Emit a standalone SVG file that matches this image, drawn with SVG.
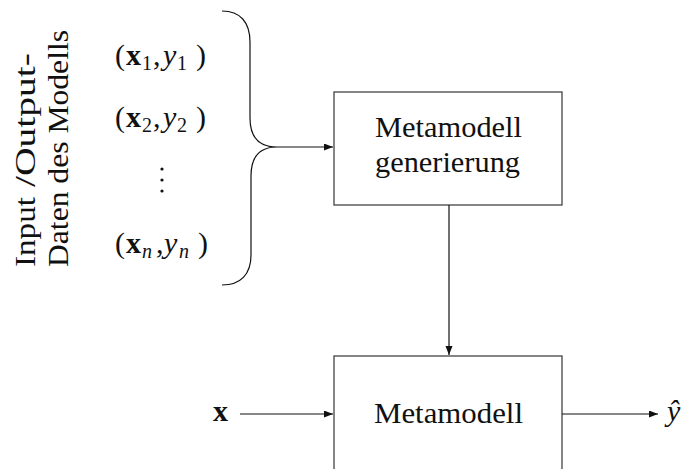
<svg xmlns="http://www.w3.org/2000/svg" width="681" height="469" viewBox="0 0 681 469">
<style>
text{font-family:"Liberation Serif","Times New Roman",serif;fill:#111}
.lbl{font-size:30px}
.m{font-size:30px}
.b{font-weight:bold}
.i{font-style:italic}
.s{font-size:20px}
.box{fill:#fff;stroke:#444;stroke-width:1.3}
.c{fill:none;stroke:#111;stroke-width:1.2}
</style>
<defs>
<marker id="ah" markerUnits="userSpaceOnUse" markerWidth="10" markerHeight="8" refX="9" refY="3.5" orient="auto">
<path d="M0,0 L9,3.5 L0,7 z" fill="#111"/>
</marker>
</defs>
<g id="side-label">
<text class="lbl" transform="translate(35,267) rotate(-90)"><tspan x="0" textLength="70" lengthAdjust="spacingAndGlyphs">Input</tspan><tspan x="80" textLength="134" lengthAdjust="spacingAndGlyphs">/Output-</tspan></text>
<text class="lbl" transform="translate(68,267) rotate(-90)" textLength="237" lengthAdjust="spacingAndGlyphs">Daten des Modells</text>
</g>
<g id="data">
<text class="m"><tspan x="115" y="65">(</tspan><tspan class="b" x="126" y="65">x</tspan><tspan class="s" x="142" y="70">1</tspan><tspan x="153" y="65">,</tspan><tspan class="i" x="163" y="65">y</tspan><tspan class="s" x="177" y="70">1</tspan><tspan x="196" y="65">)</tspan></text>
<text class="m"><tspan x="115" y="127">(</tspan><tspan class="b" x="126" y="127">x</tspan><tspan class="s" x="142" y="132">2</tspan><tspan x="153" y="127">,</tspan><tspan class="i" x="163" y="127">y</tspan><tspan class="s" x="177" y="132">2</tspan><tspan x="196" y="127">)</tspan></text>
<circle cx="162" cy="169" r="1.6" fill="#111"/>
<circle cx="162" cy="180" r="1.6" fill="#111"/>
<circle cx="162" cy="191" r="1.6" fill="#111"/>
<text class="m"><tspan x="115" y="253">(</tspan><tspan class="b" x="126" y="253">x</tspan><tspan class="s i" x="142" y="258">n</tspan><tspan x="156" y="253">,</tspan><tspan class="i" x="164" y="253">y</tspan><tspan class="s i" x="179" y="258">n</tspan><tspan x="198" y="253">)</tspan></text>
</g>
<g id="generation">
<rect class="box" x="334" y="92" width="228" height="113"/>
<text class="lbl" x="375" y="137" textLength="147" lengthAdjust="spacingAndGlyphs">Metamodell</text>
<text class="lbl" x="375" y="172" textLength="145" lengthAdjust="spacingAndGlyphs">generierung</text>
</g>
<g id="metamodel">
<rect class="box" x="334" y="356" width="228" height="130"/>
<text class="lbl" x="374" y="423" textLength="149" lengthAdjust="spacingAndGlyphs">Metamodell</text>
</g>
<g id="input-x">
<text class="m b" x="213" y="421">x</text>
</g>
<g id="output-y">
<text class="m i" x="667" y="421">ŷ</text>
</g>
<g id="connectors">
<path class="c" d="M222,11 C240,11 250,22 250,42 L250,118 C250,137 259,147 277,147 C259,147 251,157 251,176 L251,255 C251,274 241,285 222,285"/>
<line class="c" x1="277" y1="147" x2="333" y2="147" marker-end="url(#ah)"/>
<line class="c" x1="449" y1="205" x2="449" y2="355" marker-end="url(#ah)"/>
<line class="c" x1="240" y1="414" x2="333" y2="414" marker-end="url(#ah)"/>
<line class="c" x1="562" y1="414" x2="658" y2="414" marker-end="url(#ah)"/>
</g>
</svg>
